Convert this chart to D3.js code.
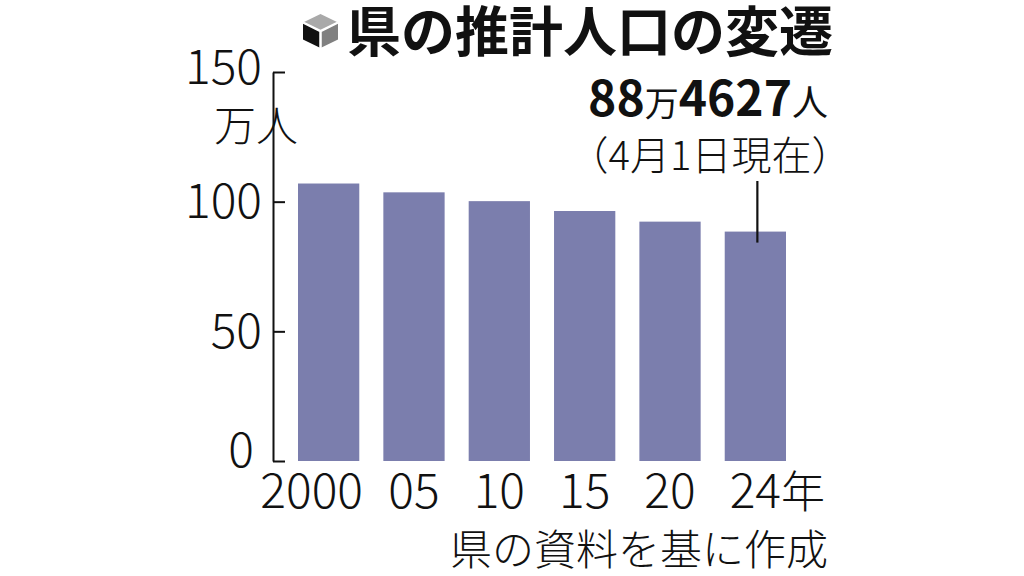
<!DOCTYPE html>
<html><head><meta charset="utf-8">
<script src="https://cdn.jsdelivr.net/npm/d3@7"></script>
<style>
html,body{margin:0;padding:0;background:#fff;}
svg{display:block;}
text{font-family:"Noto Sans CJK JP","Noto Sans",sans-serif;}
</style></head><body>
<svg id="c" width="1024" height="576"></svg>
<script>
const years = ["2000","05","10","15","20","24"];
const population = [107.0, 103.6, 100.2, 96.4, 92.3, 88.46]; // 万人
const yTicks = [0, 50, 100, 150];
const title = "県の推計人口の変遷";
const unitLabel = "万人";
const yearSuffix = "年";
const noteMain = ["88", "万", "4627", "人"];
const noteSub = "（4月1日現在）";
const source = "県の資料を基に作成";

const svg = d3.select("#c");
const barColor = "#7b7ead";

const x = d3.scaleBand().domain(years).range([298, 786]).paddingInner(0.282).paddingOuter(0);
const y = d3.scaleLinear().domain([0, 150]).range([461, 72]);

// bars
svg.append("g").selectAll("rect").data(population).join("rect")
  .attr("x", (d, i) => x(years[i]))
  .attr("y", d => y(d))
  .attr("width", x.bandwidth())
  .attr("height", d => y(0) - y(d))
  .attr("fill", barColor);

// y axis
const yAxis = d3.axisLeft(y).tickValues(yTicks).tickSizeInner(-12).tickSizeOuter(0).tickPadding(11);
const gy = svg.append("g").attr("transform", "translate(273,0)").call(yAxis);
gy.select(".domain").attr("stroke", "#111").attr("stroke-width", 2);
gy.selectAll(".tick line").attr("stroke", "#111").attr("stroke-width", 2);
gy.selectAll(".tick text")
  .attr("font-family", '"Noto Sans CJK JP", sans-serif')
  .attr("font-weight", 300)
  .attr("font-size", 48)
  .attr("fill", "#111")
  .attr("dy", "0.34em");
gy.selectAll(".tick text").filter(d => d === 150).attr("dy", "0.24em");
gy.selectAll(".tick text").filter(d => d === 0).attr("dy", "0.12em").attr("dx", -8);

svg.append("text").attr("x", 256).attr("y", 141)
  .attr("text-anchor", "middle").attr("font-size", 42).attr("font-weight", 300)
  .attr("fill", "#111").text(unitLabel);

// x labels
const gx = svg.append("g");
gx.selectAll("text").data(years).join("text")
  .attr("x", d => x(d) + x.bandwidth() / 2 + (d === "2000" ? -17 : 0))
  .attr("y", 508)
  .attr("text-anchor", "middle")
  .attr("font-size", 48)
  .attr("font-weight", 300)
  .attr("fill", "#111")
  .text(d => d);
const lastLbl = gx.selectAll("text").filter(d => d === years[years.length - 1]);
const lw = lastLbl.node().getComputedTextLength();
gx.append("text")
  .attr("x", x(years[years.length - 1]) + x.bandwidth() / 2 + lw / 2)
  .attr("y", 508).attr("font-size", 44).attr("font-weight", 300).attr("fill", "#111")
  .text(yearSuffix);

// leader line
const lastX = x(years[years.length - 1]) + x.bandwidth() / 2 + 2;
svg.append("line").attr("x1", lastX).attr("x2", lastX)
  .attr("y1", 181).attr("y2", y(population[population.length - 1]) + 11)
  .attr("stroke", "#111").attr("stroke-width", 2.2);

// annotation
const note = svg.append("text").attr("x", 828).attr("y", 116).attr("text-anchor", "end")
  .attr("fill", "#111");
const sizes = [48, 34, 48, 36];
const weights = [700, 400, 700, 400];
noteMain.forEach((t, i) => {
  note.append("tspan").attr("font-size", sizes[i]).attr("font-weight", weights[i]).text(t);
});
svg.append("text").attr("x", 710).attr("y", 170).attr("text-anchor", "middle")
  .attr("font-size", 40).attr("font-weight", 300).attr("fill", "#111").text(noteSub);

// title icon (cube)
const icon = svg.append("g").attr("transform", "translate(320.5,31)");
const ry = 17, rx = 17.5;
const hy = ry / 2;
icon.append("path").attr("d", `M0,${-ry} L${rx},${-hy} L0,0 L${-rx},${-hy} Z`).attr("fill", "#a9a9a9");
icon.append("path").attr("d", `M${-rx},${-hy} L0,0 L0,${ry} L${-rx},${hy} Z`).attr("fill", "#111");
icon.append("path").attr("d", `M${rx},${-hy} L0,0 L0,${ry} L${rx},${hy} Z`).attr("fill", "#808080");
icon.append("path").attr("d", `M${-rx},${-hy} L0,0 L${rx},${-hy} M0,0 L0,${ry}`)
  .attr("stroke", "#fff").attr("stroke-width", 2.5).attr("fill", "none");

svg.append("text").attr("x", 347).attr("y", 52).attr("font-size", 54).attr("font-weight", 700)
  .attr("fill", "#111").text(title);

// source
svg.append("text").attr("x", 828).attr("y", 565).attr("text-anchor", "end")
  .attr("font-size", 42).attr("font-weight", 300).attr("fill", "#111").text(source);
</script>
</body></html>
